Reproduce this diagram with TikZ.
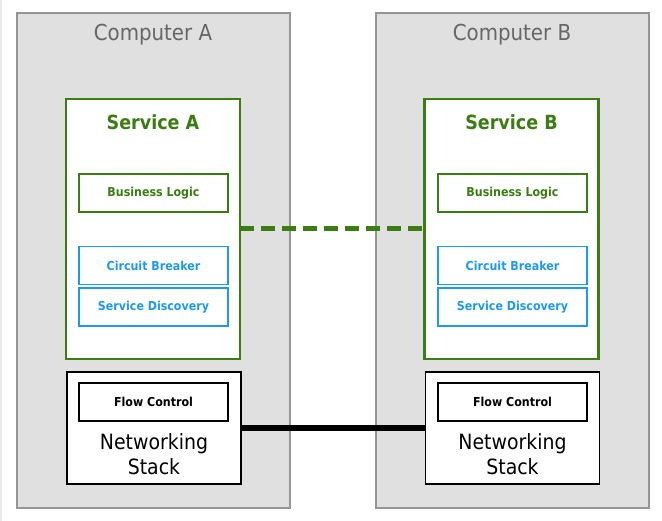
\documentclass[tikz,border=0pt]{standalone}
\usepackage{fontspec}
\setmainfont{DejaVu Sans}[FakeStretch=0.9]
\definecolor{cgreen}{HTML}{3B7D12}
\definecolor{cblue}{HTML}{1E98F5}
\definecolor{cgray}{HTML}{E0E0E0}
\definecolor{cborder}{HTML}{959595}
\definecolor{ctitle}{HTML}{666666}
\tikzset{
  computer/.style={draw=cborder, fill=cgray, line width=1.6pt, minimum width=273pt, minimum height=495pt, inner sep=0pt, outer sep=0pt},
  service/.style={draw=cgreen, fill=white, line width=2.6pt, minimum width=174pt, minimum height=260pt, inner sep=0pt, outer sep=0pt},
  netstack/.style={draw=black, fill=white, line width=1.5pt, minimum width=174pt, minimum height=112pt, inner sep=0pt, outer sep=0pt},
  greenbox/.style={draw=cgreen, fill=white, line width=1.5pt, minimum width=149pt, minimum height=38pt, inner sep=0pt, outer sep=0pt, text=cgreen, font=\fontsize{12.3pt}{14pt}\selectfont\bfseries},
  bluebox/.style={draw=cblue, fill=white, line width=1.3pt, minimum width=149pt, minimum height=38pt, inner sep=0pt, outer sep=0pt, text=cblue, font=\fontsize{12.3pt}{14pt}\selectfont\bfseries},
  blackbox/.style={draw=black, fill=white, line width=1.8pt, minimum width=149pt, minimum height=38pt, inner sep=0pt, outer sep=0pt, text=black, font=\fontsize{12.3pt}{14pt}\selectfont\bfseries},
  comptitle/.style={text=ctitle, font=\fontsize{22pt}{26pt}\selectfont, inner sep=0pt},
  servtitle/.style={text=cgreen, font=\fontsize{19.5pt}{23pt}\selectfont\bfseries, inner sep=0pt},
  nettext/.style={text=black, align=center, font=\fontsize{21pt}{25pt}\selectfont, inner sep=0pt},
  dashlink/.style={draw=cgreen, line width=5pt, dash pattern=on 14pt off 7pt},
  solidlink/.style={draw=black, line width=5.5pt}
}
\begin{document}
\begin{tikzpicture}[x=1pt,y=-1pt]
\useasboundingbox (0,0) rectangle (662,521);
\draw[color=black!8, line width=2pt] (1,0) -- (1,521);
% Computer A
\node[computer] (compA) at (153.5,260.5) {};
\node[comptitle] (compAt) at (153,35) {Computer A};
\node[service] (servA) at (153,229) {};
\node[servtitle] (servAt) at (153,122) {Service A};
\node[greenbox] (blA) at (153.5,193) {Business Logic};
\node[bluebox] (cbA) at (153.5,265.5) {Circuit Breaker};
\node[bluebox] (sdA) at (153.5,307) {Service Discovery};
\node[netstack] (nsA) at (154,428) {};
\node[blackbox] (fcA) at (153.5,402) {Flow Control};
\node[nettext] (nsAt) at (154,454) {Networking\\Stack};
% Computer B
\node[computer] (compB) at (512.5,260.5) {};
\node[comptitle] (compBt) at (512,35) {Computer B};
\node[service] (servB) at (511.5,229) {};
\node[servtitle] (servBt) at (511.5,122) {Service B};
\node[greenbox] (blB) at (512.5,193) {Business Logic};
\node[bluebox] (cbB) at (512.5,265.5) {Circuit Breaker};
\node[bluebox] (sdB) at (512.5,307) {Service Discovery};
\node[netstack] (nsB) at (512.5,428) {};
\node[blackbox] (fcB) at (512.5,402) {Flow Control};
\node[nettext] (nsBt) at (512.5,454) {Networking\\Stack};
% links
\draw[dashlink] (servA.east) -- (servB.west);
\draw[solidlink] (nsA.east) -- (nsB.west);
\end{tikzpicture}
\end{document}
